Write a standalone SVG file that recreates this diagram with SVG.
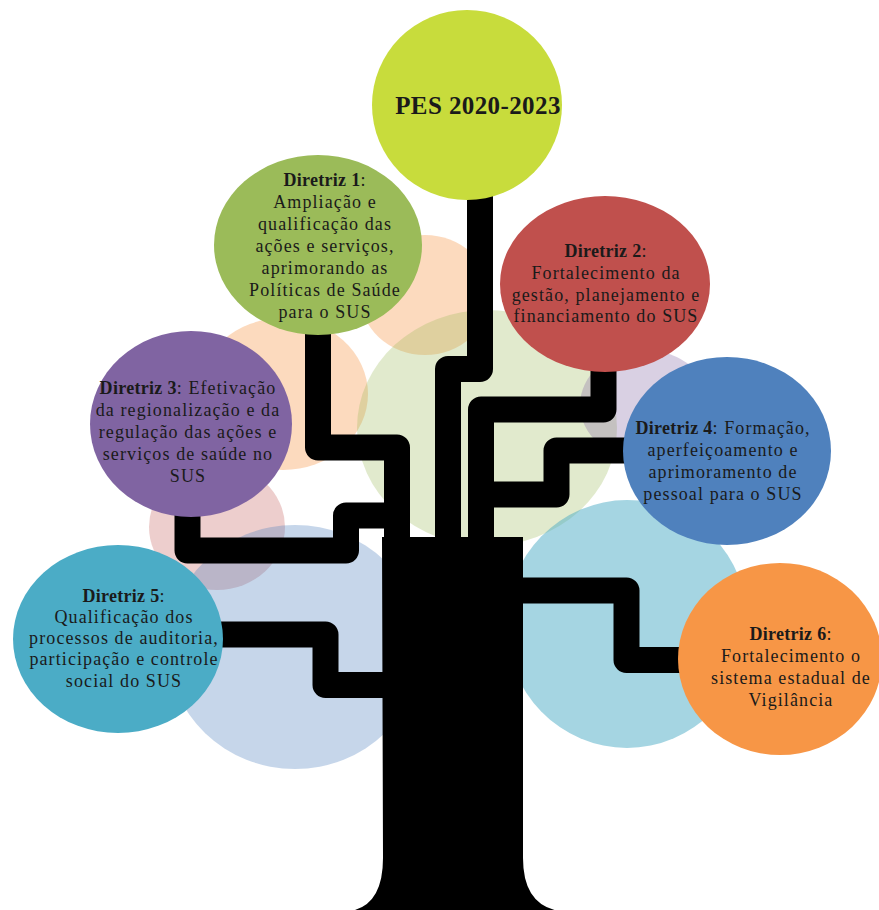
<svg xmlns="http://www.w3.org/2000/svg" width="879" height="910" viewBox="0 0 879 910">
<style>
  .t { font-family: "Liberation Serif", "Times New Roman", serif; font-size: 18px; fill: #1a1a1a; text-anchor: middle; letter-spacing: 1.1px; }
  .b { font-weight: bold; letter-spacing: 0.3px; }
  .pes { font-family: "Liberation Serif", "Times New Roman", serif; font-size: 25px; font-weight: bold; fill: #1a1a1a; text-anchor: middle; letter-spacing: 0.4px; }
  .br { fill: none; stroke: #000; stroke-width: 26; stroke-linejoin: round; stroke-linecap: butt; }
</style>
<rect width="879" height="910" fill="#fff"/>
<g id="background">
  <ellipse cx="425" cy="295" rx="65" ry="60" fill="#f79646" fill-opacity="0.35"/>
  <ellipse cx="283" cy="394" rx="85" ry="76" fill="#f79646" fill-opacity="0.35"/>
  <ellipse cx="487" cy="428" rx="130" ry="118" fill="#9bbb59" fill-opacity="0.3"/>
  <ellipse cx="645" cy="405" rx="65" ry="55" fill="#8064a2" fill-opacity="0.3"/>
  <ellipse cx="217" cy="527" rx="68" ry="63" fill="#c0504d" fill-opacity="0.28"/>
  <ellipse cx="295" cy="647" rx="127" ry="122" fill="#4f81bd" fill-opacity="0.32"/>
  <ellipse cx="627" cy="624" rx="121" ry="124" fill="#4bacc6" fill-opacity="0.5"/>
</g>
<g id="trunk">
  <path d="M382,537 H523 V858 Q523,910 568,912 H343 Q383,910 383,858 Z" fill="#000"/>
</g>
<g id="connectors">
  <path class="br" d="M480,190 V369 H448 V545"/>
  <path class="br" d="M318,320 V447.5 H397 V545"/>
  <path class="br" d="M603.5,360 V409.5 H481 V545"/>
  <path class="br" d="M187.5,500 V550.5 H346 V515.5 H400"/>
  <path class="br" d="M635,450.5 H556.5 V494.5 H485"/>
  <path class="br" d="M210,634.5 H325.5 V685 H400"/>
  <path class="br" d="M515,590.5 H626.5 V660 H690"/>
</g>
<g id="pes">
  <ellipse cx="467" cy="105" rx="95" ry="95" fill="#c8dc3c"/>
  <text class="pes" x="478" y="114">PES 2020-2023</text>
</g>
<g id="diretriz1">
  <ellipse cx="318" cy="245" rx="104" ry="90" fill="#9bbb59"/>
  <text class="t" x="325" y="186"><tspan class="b">Diretriz 1</tspan>:</text>
  <text class="t" x="325" y="208">Ampliação e</text>
  <text class="t" x="325" y="230">qualificação das</text>
  <text class="t" x="325" y="252">ações e serviços,</text>
  <text class="t" x="325" y="274">aprimorando as</text>
  <text class="t" x="325" y="296">Políticas de Saúde</text>
  <text class="t" x="325" y="318">para o SUS</text>
</g>
<g id="diretriz2">
  <ellipse cx="605" cy="284" rx="105" ry="88" fill="#c0504d"/>
  <text class="t" x="606" y="257"><tspan class="b">Diretriz 2</tspan>:</text>
  <text class="t" x="606" y="279">Fortalecimento da</text>
  <text class="t" x="606" y="301">gestão, planejamento e</text>
  <text class="t" x="606" y="322">financiamento do SUS</text>
</g>
<g id="diretriz3">
  <ellipse cx="191" cy="424" rx="101" ry="93" fill="#8064a2"/>
  <text class="t" x="188" y="394"><tspan class="b">Diretriz 3</tspan>: Efetivação</text>
  <text class="t" x="188" y="416">da regionalização e da</text>
  <text class="t" x="188" y="438">regulação das ações e</text>
  <text class="t" x="188" y="460">serviços de saúde no</text>
  <text class="t" x="188" y="482">SUS</text>
</g>
<g id="diretriz4">
  <ellipse cx="727" cy="451" rx="104" ry="94" fill="#4f81bd"/>
  <text class="t" x="723" y="434"><tspan class="b">Diretriz 4</tspan>: Formação,</text>
  <text class="t" x="723" y="456">aperfeiçoamento e</text>
  <text class="t" x="723" y="478">aprimoramento de</text>
  <text class="t" x="723" y="500">pessoal para o SUS</text>
</g>
<g id="diretriz5">
  <ellipse cx="118" cy="639" rx="105" ry="94" fill="#4bacc6"/>
  <text class="t" x="124" y="602"><tspan class="b">Diretriz 5</tspan>:</text>
  <text class="t" x="124" y="623">Qualificação dos</text>
  <text class="t" x="124" y="644">processos de auditoria,</text>
  <text class="t" x="124" y="665">participação e controle</text>
  <text class="t" x="124" y="687">social do SUS</text>
</g>
<g id="diretriz6">
  <ellipse cx="780" cy="659" rx="102" ry="96" fill="#f79646"/>
  <text class="t" x="791" y="640"><tspan class="b">Diretriz 6</tspan>:</text>
  <text class="t" x="791" y="662">Fortalecimento o</text>
  <text class="t" x="791" y="684">sistema estadual de</text>
  <text class="t" x="791" y="706">Vigilância</text>
</g>
</svg>
